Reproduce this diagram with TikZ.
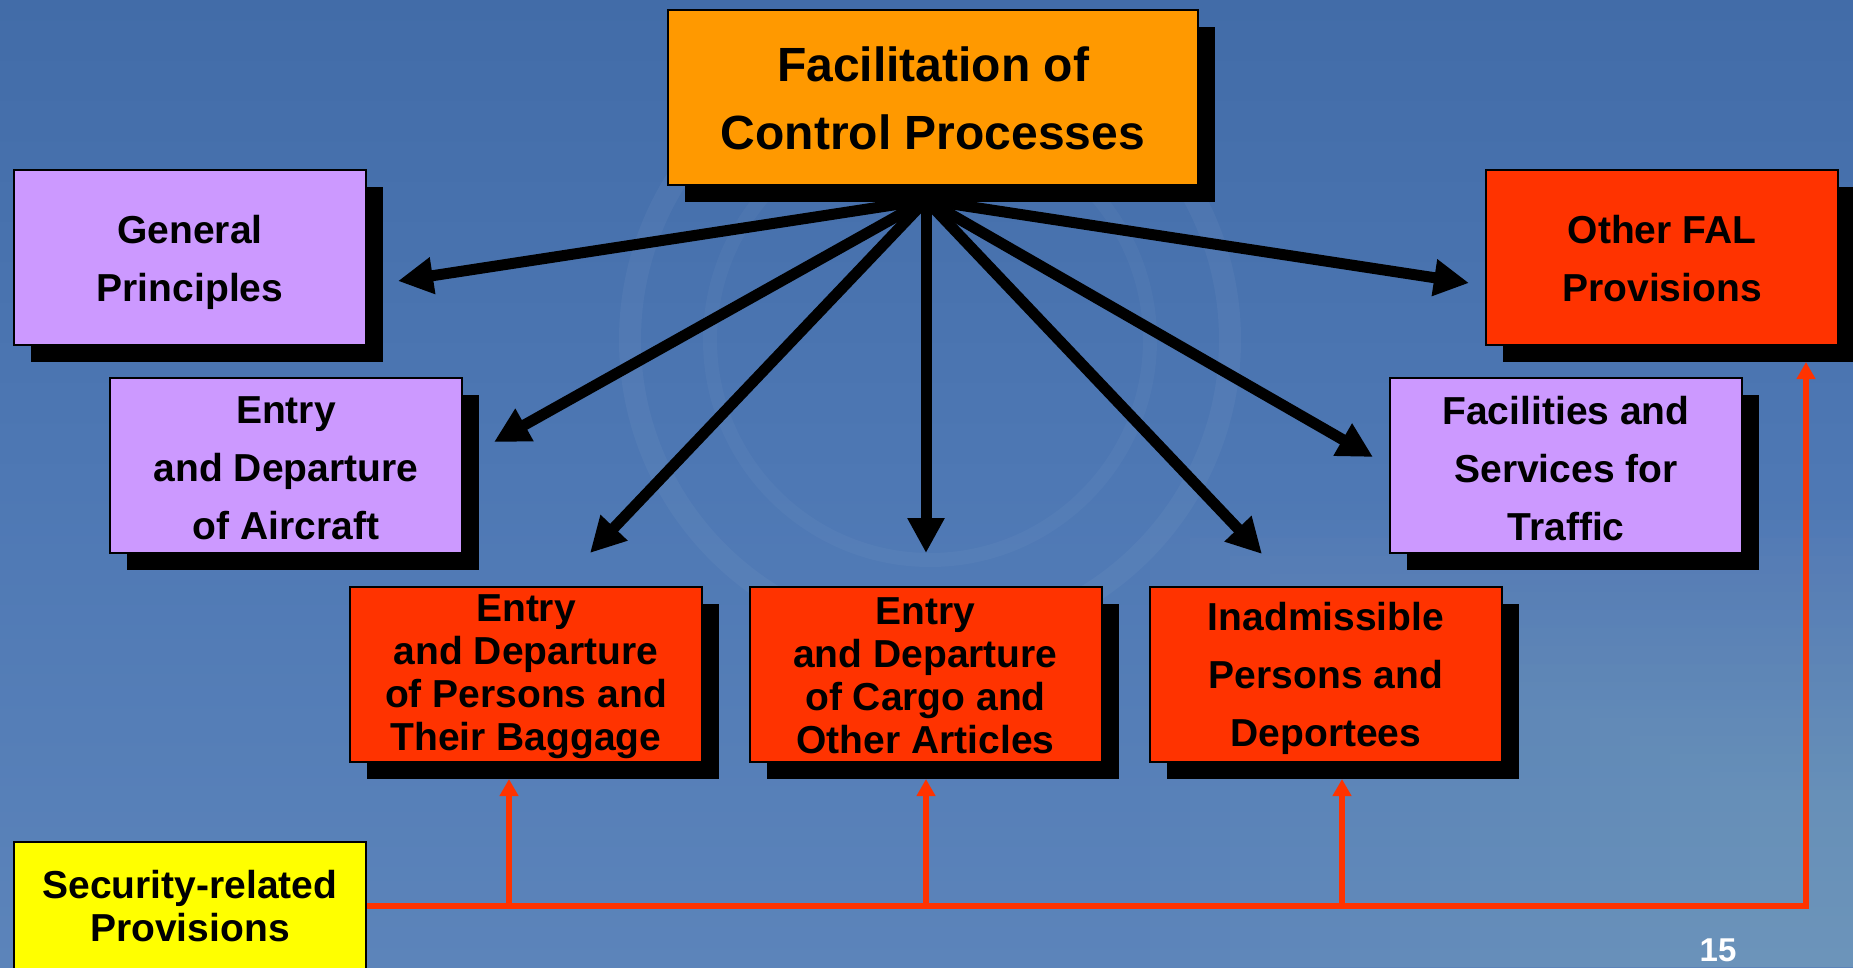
\documentclass[tikz,border=0pt]{standalone}
\usepackage{fontspec}
\setmainfont{Liberation Sans}
\usetikzlibrary{arrows.meta,shadows,calc}
\definecolor{bgtop}{RGB}{66,108,168}
\definecolor{bgmid}{RGB}{78,120,180}
\definecolor{bgbot}{RGB}{92,132,186}
\definecolor{lilac}{RGB}{204,153,255}
\definecolor{redbox}{RGB}{255,51,0}
\definecolor{orangebox}{RGB}{255,153,0}
\definecolor{yellowbox}{RGB}{255,255,0}
\begin{document}
\begin{tikzpicture}[x=1pt,y=-1pt,
  plainbox/.style={draw=black, line width=2pt, minimum width=352pt, minimum height=175pt,
    inner sep=0pt},
  box/.style={plainbox,
    drop shadow={shadow xshift=17pt, shadow yshift=-17pt, fill=black, opacity=1}},
  txt/.style={inner sep=0pt, align=center, font=\fontsize{39}{58}\selectfont\bfseries},
  tight/.style={txt, font=\fontsize{39}{43}\selectfont\bfseries},
  blackarrow/.style={line width=11pt, draw=black, -{Triangle[length=35pt,width=35pt]}},
  redline/.style={line width=6pt, draw=redbox},
  redarrow/.style={redline, -{Triangle[length=17pt,width=18pt]}}
]
\useasboundingbox (0,0) rectangle (1853,967);
% background
\fill[top color=bgtop, bottom color=bgbot, middle color=bgmid] (0,0) rectangle (1853,967);
\foreach \i in {0,...,15}
  \fill[white, opacity=0.012] (1150+\i*40, 520+\i*18) rectangle (1853,967);
\draw[white, opacity=0.04, line width=22pt] (930,340) circle (300);
\draw[white, opacity=0.03, line width=14pt] (930,340) circle (220);

% arrow coordinates
\coordinate (hub) at (926,200);
\coordinate (tgp) at (398,281);
\coordinate (tair) at (494,442);
\coordinate (tpers) at (590,553);
\coordinate (tcargo) at (926,553);
\coordinate (tinad) at (1262,554);
\coordinate (tfac) at (1373,457);
\coordinate (tofal) at (1469,283);

\foreach \t in {tgp,tair,tpers,tcargo,tinad,tfac,tofal}
  \draw[blackarrow] (hub) -- (\t);

% boxes
\node[box, fill=orangebox, minimum width=530pt] (top) at (933,97.5) {};
\node[txt, font=\fontsize{48}{68}\selectfont\bfseries] (topt) at ($(top.center)+(0,1)$) {Facilitation of\\Control Processes};
\node[box, fill=lilac] (gp) at (190,257.5) {};
\node[txt] (gpt) at ($(gp.center)+(0,5)$) {General\\Principles};
\node[box, fill=lilac] (air) at (286,465.5) {};
\node[txt] (airt) at ($(air.center)+(0,3)$) {Entry\\and Departure\\of Aircraft};
\node[box, fill=redbox] (ofal) at (1662,257.5) {};
\node[txt] (ofalt) at ($(ofal.center)+(0,1)$) {Other FAL\\Provisions};
\node[box, fill=lilac] (fac) at (1566,465.5) {};
\node[txt] (fact) at ($(fac.center)+(0,3)$) {Facilities and\\Services for\\Traffic};
\node[box, fill=redbox] (pers) at (526,674) {};
\node[tight] (perst) at ($(pers.center)+(0,3)$) {Entry\\and Departure\\of Persons and\\Their Baggage};
\node[box, fill=redbox] (cargo) at (925.5,674) {};
\node[tight] (cargot) at ($(cargo.center)+(0,2)$) {Entry\\and Departure\\of Cargo and\\Other Articles};
\node[box, fill=redbox] (inad) at (1326,674) {};
\node[txt] (inadt) at ($(inad.center)+(0,4)$) {Inadmissible\\Persons and\\Deportees};
\node[plainbox, fill=yellowbox, minimum height=128pt] (sec) at (190,906) {};
\node[tight] (sect) at ($(sec.center)+(0,0)$) {Security-related\\Provisions};

% red connectors
\coordinate (j1) at (509,906);
\coordinate (t1) at (509,779);
\coordinate (j2) at (926,906);
\coordinate (t2) at (926,779);
\coordinate (j3) at (1342,906);
\coordinate (t3) at (1342,779);
\coordinate (corner) at (1806,906);
\coordinate (t4) at (1806,362);
\draw[redarrow] (sec.east) -- (corner) -- (t4);
\draw[redarrow] (j1) -- (t1);
\draw[redarrow] (j2) -- (t2);
\draw[redarrow] (j3) -- (t3);

% page number
\node[text=white, inner sep=0pt, anchor=north, font=\fontsize{33}{33}\selectfont\bfseries] (pg) at (1718,939) {15};
\end{tikzpicture}
\end{document}
